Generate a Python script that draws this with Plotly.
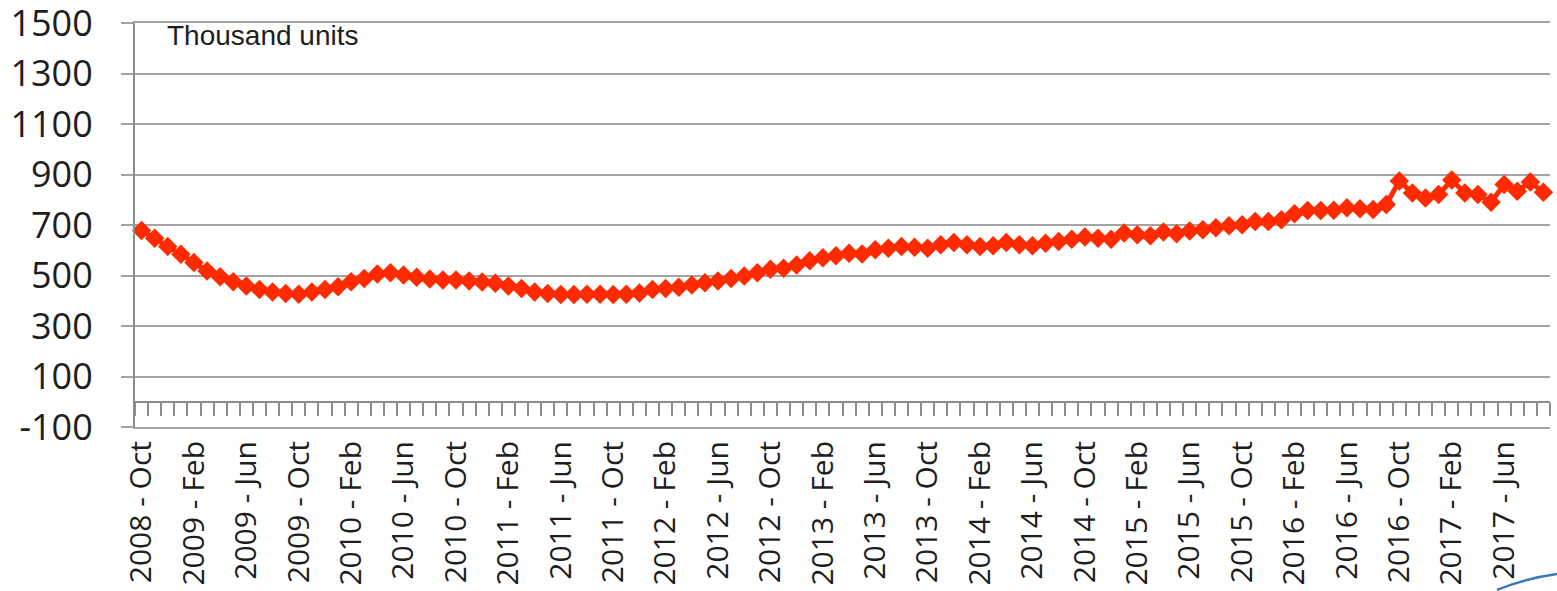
import plotly.graph_objects as go

# ---- data ----
months = ["Jan", "Feb", "Mar", "Apr", "May", "Jun", "Jul", "Aug", "Sep", "Oct", "Nov", "Dec"]
start_year, start_month = 2008, 10  # 2008 - Oct
n_points = 108
categories = []
for i in range(n_points):
    m = start_month - 1 + i
    categories.append(f"{start_year + m // 12} - {months[m % 12]}")

values = [
    678, 648, 615, 584, 551, 518, 495, 475, 458, 445, 435, 429,   # 2008 Oct - 2009 Sep
    426, 435, 445, 455, 475, 488, 506, 511, 502, 493, 486, 482,   # 2009 Oct - 2010 Sep
    482, 478, 474, 469, 458, 449, 435, 429, 425, 425, 426, 426,   # 2010 Oct - 2011 Sep
    425, 426, 431, 445, 449, 453, 462, 471, 478, 488, 498, 511,   # 2011 Oct - 2012 Sep
    525, 529, 542, 558, 570, 578, 588, 585, 602, 608, 615, 612,   # 2012 Oct - 2013 Sep
    608, 622, 631, 622, 615, 618, 631, 622, 618, 628, 635, 644,   # 2013 Oct - 2014 Sep
    652, 648, 644, 668, 661, 657, 672, 665, 676, 681, 689, 697,   # 2014 Oct - 2015 Sep
    701, 714, 714, 721, 745, 757, 757, 758, 768, 764, 761, 781,   # 2015 Oct - 2016 Sep
    874, 827, 807, 821, 878, 827, 821, 790, 860, 834, 870, 830,   # 2016 Oct - 2017 Sep
]

label_categories = categories[::4]
y_ticks = [-100, 100, 300, 500, 700, 900, 1100, 1300, 1500]
y_tick_text = ["-100", "100", "300", "500", "700", "900", "1100", "1300", "1500"]
unit_text = "Thousand units"

RED = "#ff2a00"
GRID = "#a3a3a3"
AXIS = "#8c8c8c"
TXT = "#1e1e1e"

fig = go.Figure()

# invisible trace on the tick axis (at y = 0)
fig.add_trace(go.Scatter(
    x=categories, y=values, xaxis="x2", mode="markers",
    marker=dict(opacity=0), hoverinfo="skip", showlegend=False,
))

fig.add_trace(go.Scatter(
    x=categories, y=values, mode="lines+markers",
    line=dict(color=RED, width=5),
    marker=dict(symbol="diamond", size=15, color=RED),
    showlegend=False, cliponaxis=False,
))

fig.update_layout(
    width=1557, height=591,
    margin=dict(l=135, r=7, t=23, b=164),
    paper_bgcolor="white", plot_bgcolor="white",
    xaxis=dict(
        type="category", range=[-0.5, n_points - 0.5], automargin=False,
        tickmode="array", tickvals=label_categories, ticktext=label_categories,
        tickangle=-90, showgrid=False, zeroline=False,
        showline=True, mirror=True, linecolor=GRID, linewidth=2,
        ticks="", ticklabelstandoff=0, ticklabeloverflow="allow",
        tickfont=dict(family="Open Sans", size=30, color=TXT),
    ),
    xaxis2=dict(
        type="category", range=[-0.5, n_points - 0.5], automargin=False,
        overlaying="x", anchor="free", position=(0 - (-100)) / 1600, side="bottom",
        tickmode="linear", tick0=0, dtick=1, tickson="boundaries",
        ticks="outside", ticklen=13, tickwidth=1.5, tickcolor=AXIS,
        showticklabels=False, showgrid=False, zeroline=False,
        showline=True, linecolor=AXIS, linewidth=2,
    ),
    yaxis=dict(
        range=[-100, 1500], automargin=False,
        tickmode="array", tickvals=y_ticks, ticktext=y_tick_text,
        showgrid=True, gridcolor=GRID, gridwidth=2,
        zeroline=False,
        showline=True, linecolor=AXIS, linewidth=2,
        ticks="outside", ticklen=12, tickwidth=2, tickcolor=GRID,
        ticklabelstandoff=21, ticklabeloverflow="allow",
        tickfont=dict(family="Open Sans", size=36, color=TXT),
    ),
    annotations=[dict(
        text=unit_text, xref="paper", yref="paper", x=0.021, y=0.97,
        xanchor="left", yanchor="middle", showarrow=False,
        font=dict(family="Liberation Sans", size=28, color=TXT),
    )],
    shapes=[dict(
        type="path", xref="paper", yref="paper",
        path="M 0.9625,-0.403 Q 0.9837,-0.374 1.005,-0.364",
        line=dict(color="#3a78b8", width=2.5), layer="above",
    )],
)

fig.write_html(
    "out.html",
    config={"displayModeBar": False},
    post_script="document.body.style.margin='0';document.body.style.overflow='hidden';",
)
